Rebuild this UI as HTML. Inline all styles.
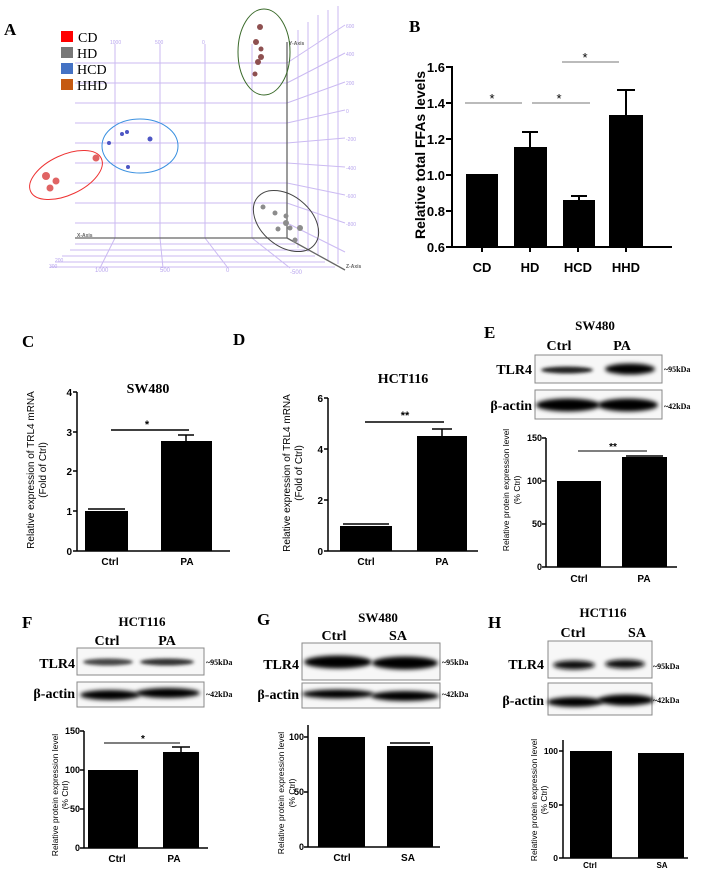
<!DOCTYPE html>
<html><head><meta charset="utf-8"><style>
html,body{margin:0;padding:0;background:#fff;}
svg{display:block;}
.lbl{font-family:"Liberation Serif",serif;font-weight:bold;}
.ax{font-family:"Liberation Sans",sans-serif;font-weight:bold;}
.tr{font-family:"Liberation Serif",serif;font-weight:bold;}
</style></head><body>
<svg width="720" height="870" viewBox="0 0 720 870" xmlns="http://www.w3.org/2000/svg">
<defs>
<filter id="bl" x="-20%" y="-100%" width="140%" height="300%"><feGaussianBlur stdDeviation="2.2"/></filter>
<filter id="bl2" x="-20%" y="-100%" width="140%" height="300%"><feGaussianBlur stdDeviation="1.5"/></filter>
</defs>

<!-- Panel A -->
<text class="lbl" x="4" y="35" font-size="17">A</text>
<g stroke="#cbbaf2" stroke-width="1" fill="none">
<line x1="115" y1="44" x2="115" y2="238"/><line x1="160" y1="44" x2="160" y2="238"/>
<line x1="205" y1="44" x2="205" y2="238"/><line x1="252" y1="44" x2="252" y2="238"/>
<line x1="75" y1="63" x2="287" y2="63"/><line x1="75" y1="83" x2="287" y2="83"/>
<line x1="75" y1="103" x2="287" y2="103"/><line x1="75" y1="123" x2="287" y2="123"/>
<line x1="75" y1="143" x2="287" y2="143"/><line x1="75" y1="163" x2="287" y2="163"/>
<line x1="75" y1="183" x2="287" y2="183"/><line x1="75" y1="203" x2="287" y2="203"/>
<line x1="75" y1="223" x2="287" y2="223"/>
<line x1="287" y1="63" x2="345" y2="25"/><line x1="287" y1="83" x2="345" y2="53"/>
<line x1="287" y1="103" x2="345" y2="82"/><line x1="287" y1="123" x2="345" y2="110"/>
<line x1="287" y1="143" x2="345" y2="138"/><line x1="287" y1="163" x2="345" y2="167"/>
<line x1="287" y1="183" x2="345" y2="195"/><line x1="287" y1="203" x2="345" y2="223"/>
<line x1="287" y1="223" x2="345" y2="252"/>
<line x1="298" y1="30" x2="298" y2="248"/><line x1="308" y1="22" x2="308" y2="252"/>
<line x1="318" y1="15" x2="318" y2="256"/><line x1="328" y1="10" x2="328" y2="260"/>
<line x1="338" y1="6" x2="338" y2="264"/>
<line x1="75" y1="244" x2="295" y2="244"/><line x1="70" y1="250" x2="305" y2="250"/>
<line x1="62" y1="256" x2="315" y2="256"/><line x1="55" y1="262" x2="325" y2="262"/>
<line x1="50" y1="267" x2="335" y2="267"/>
<line x1="115" y1="238" x2="100" y2="268"/><line x1="160" y1="238" x2="163" y2="268"/>
<line x1="205" y1="238" x2="228" y2="268"/><line x1="252" y1="238" x2="290" y2="268"/>
</g>
<g font-family="Liberation Sans,sans-serif" font-size="5" fill="#b8a5ee">
<text x="110" y="44">1000</text><text x="155" y="44">500</text><text x="202" y="44">0</text>
<text x="346" y="28">600</text><text x="346" y="56">400</text><text x="346" y="85">200</text>
<text x="346" y="113">0</text><text x="346" y="141">-200</text><text x="346" y="170">-400</text>
<text x="346" y="198">-600</text><text x="346" y="226">-800</text>
<text x="95" y="272" font-size="6">1000</text><text x="160" y="272" font-size="6">500</text><text x="226" y="272" font-size="6">0</text><text x="290" y="274" font-size="6">-500</text>
<text x="49" y="268">300</text><text x="55" y="262">200</text>
</g>
<g stroke="#666" stroke-width="1.3" fill="none">
<line x1="287" y1="42" x2="287" y2="238"/><line x1="75" y1="238" x2="287" y2="238"/>
<line x1="287" y1="238" x2="345" y2="270"/>
</g>
<g font-family="Liberation Sans,sans-serif" font-size="5" font-weight="bold" fill="#666">
<text x="289" y="45">Y-Axis</text><text x="77" y="237">X-Axis</text><text x="346" y="268">Z-Axis</text>
</g>
<g fill="#e06464"><circle cx="96" cy="158" r="3.5"/><circle cx="46" cy="176" r="4"/><circle cx="56" cy="181" r="3.5"/><circle cx="50" cy="188" r="3.5"/></g>
<g fill="#4d56c4"><circle cx="122" cy="134" r="2"/><circle cx="127" cy="132" r="2"/><circle cx="109" cy="143" r="2"/><circle cx="150" cy="139" r="2.5"/><circle cx="128" cy="167" r="2"/></g>
<g fill="#8e5050"><circle cx="260" cy="27" r="3"/><circle cx="256" cy="42" r="3"/><circle cx="261" cy="49" r="2.5"/><circle cx="261" cy="57" r="3"/><circle cx="258" cy="62" r="3"/><circle cx="255" cy="74" r="2.5"/></g>
<g fill="#8c8c8c"><circle cx="263" cy="207" r="2.5"/><circle cx="275" cy="213" r="2.5"/><circle cx="286" cy="216" r="2.5"/><circle cx="286" cy="223" r="3"/><circle cx="290" cy="228" r="2.5"/><circle cx="278" cy="229" r="2.5"/><circle cx="300" cy="228" r="3"/><circle cx="295" cy="240" r="2.5"/></g>
<ellipse cx="66" cy="175" rx="39" ry="20" transform="rotate(-25 66 175)" fill="none" stroke="#ee3333" stroke-width="1"/>
<ellipse cx="140" cy="146" rx="38" ry="27" fill="none" stroke="#3a90e0" stroke-width="1"/>
<ellipse cx="264" cy="52" rx="26" ry="43" fill="none" stroke="#3a6a2a" stroke-width="1"/>
<ellipse cx="286" cy="221" rx="37" ry="25" transform="rotate(40 286 221)" fill="none" stroke="#444" stroke-width="1"/>
<rect x="61" y="31" width="12" height="11" fill="#ff0000"/>
<rect x="61" y="47" width="12" height="11" fill="#777"/>
<rect x="61" y="63" width="12" height="11" fill="#4472c4"/>
<rect x="61" y="79" width="12" height="11" fill="#c55a11"/>
<g font-family="Liberation Serif,serif" font-size="14">
<text x="78" y="42">CD</text><text x="77" y="58">HD</text><text x="77" y="74">HCD</text><text x="77" y="90">HHD</text>
</g>

<!-- Panel B -->
<text class="lbl" x="409" y="32" font-size="17">B</text>
<g fill="#000">
<rect x="466" y="174" width="32" height="73"/><rect x="514" y="147" width="33" height="100"/>
<rect x="563" y="200" width="32" height="47"/><rect x="609" y="115" width="34" height="132"/>
</g>
<g stroke="#000" stroke-width="2" fill="none">
<line x1="452" y1="66" x2="452" y2="247"/><line x1="452" y1="247" x2="672" y2="247"/>
<line x1="446" y1="67" x2="452" y2="67"/><line x1="446" y1="103" x2="452" y2="103"/><line x1="446" y1="139" x2="452" y2="139"/><line x1="446" y1="175" x2="452" y2="175"/><line x1="446" y1="211" x2="452" y2="211"/><line x1="446" y1="247" x2="452" y2="247"/>
<line x1="482" y1="247" x2="482" y2="252"/><line x1="530" y1="247" x2="530" y2="252"/><line x1="578" y1="247" x2="578" y2="252"/><line x1="626" y1="247" x2="626" y2="252"/>
<line x1="530" y1="147" x2="530" y2="132"/><line x1="522" y1="132" x2="538" y2="132"/>
<line x1="579" y1="200" x2="579" y2="196"/><line x1="571" y1="196" x2="587" y2="196"/>
<line x1="626" y1="115" x2="626" y2="90"/><line x1="617" y1="90" x2="635" y2="90"/>
</g>
<g stroke="#777" stroke-width="1"><line x1="465" y1="103" x2="522" y2="103"/><line x1="532" y1="103" x2="590" y2="103"/><line x1="562" y1="62" x2="619" y2="62"/></g>
<g font-family="Liberation Sans,sans-serif" font-size="13" text-anchor="middle"><text x="492" y="103">*</text><text x="559" y="103">*</text><text x="585" y="62">*</text></g>
<g class="ax" font-size="13" text-anchor="end">
<text x="445" y="72">1.6</text><text x="445" y="108">1.4</text><text x="445" y="144">1.2</text><text x="445" y="180">1.0</text><text x="445" y="216">0.8</text><text x="445" y="252">0.6</text>
</g>
<g class="ax" font-size="13" text-anchor="middle"><text x="482" y="272">CD</text><text x="530" y="272">HD</text><text x="578" y="272">HCD</text><text x="626" y="272">HHD</text></g>
<text class="ax" font-size="14" text-anchor="middle" transform="translate(425 155) rotate(-90)">Relative total  FFAs levels</text>

<!-- Panel C -->
<text class="lbl" x="22" y="347" font-size="17">C</text>
<text class="tr" x="148" y="393" font-size="14" text-anchor="middle">SW480</text>
<rect x="85" y="511" width="43" height="40" fill="#000"/>
<rect x="161" y="441" width="51" height="110" fill="#000"/>
<g stroke="#000" stroke-width="1.5" fill="none">
<line x1="77" y1="392" x2="77" y2="551"/><line x1="77" y1="551" x2="230" y2="551"/>
<line x1="73" y1="392" x2="77" y2="392"/><line x1="73" y1="432" x2="77" y2="432"/><line x1="73" y1="471" x2="77" y2="471"/><line x1="73" y1="511" x2="77" y2="511"/><line x1="73" y1="551" x2="77" y2="551"/>
<line x1="186" y1="441" x2="186" y2="435"/><line x1="178" y1="435" x2="194" y2="435"/>
<line x1="88" y1="509" x2="125" y2="509"/>
<line x1="111" y1="430" x2="189" y2="430"/>
</g>
<text class="ax" x="147" y="428" font-size="11" text-anchor="middle">*</text>
<g class="ax" font-size="10" text-anchor="end"><text x="72" y="396">4</text><text x="72" y="436">3</text><text x="72" y="475">2</text><text x="72" y="515">1</text><text x="72" y="555">0</text></g>
<g class="ax" font-size="10" text-anchor="middle"><text x="110" y="565">Ctrl</text><text x="187" y="565">PA</text></g>
<g font-family="Liberation Sans,sans-serif" font-size="10" text-anchor="middle">
<text transform="translate(34 470) rotate(-90)">Relative expression of TRL4 mRNA</text>
<text transform="translate(46 470) rotate(-90)">(Fold of Ctrl)</text></g>

<!-- Panel D -->
<text class="lbl" x="233" y="345" font-size="17">D</text>
<text class="tr" x="403" y="383" font-size="14" text-anchor="middle">HCT116</text>
<rect x="340" y="526" width="52" height="25" fill="#000"/>
<rect x="417" y="436" width="50" height="115" fill="#000"/>
<g stroke="#000" stroke-width="1.5" fill="none">
<line x1="328" y1="398" x2="328" y2="551"/><line x1="328" y1="551" x2="478" y2="551"/>
<line x1="324" y1="398" x2="328" y2="398"/><line x1="324" y1="449" x2="328" y2="449"/><line x1="324" y1="500" x2="328" y2="500"/><line x1="324" y1="551" x2="328" y2="551"/>
<line x1="442" y1="436" x2="442" y2="429"/><line x1="432" y1="429" x2="452" y2="429"/>
<line x1="343" y1="524" x2="389" y2="524"/>
<line x1="365" y1="422" x2="444" y2="422"/>
</g>
<text class="ax" x="405" y="419" font-size="11" text-anchor="middle">**</text>
<g class="ax" font-size="10" text-anchor="end"><text x="323" y="402">6</text><text x="323" y="453">4</text><text x="323" y="504">2</text><text x="323" y="555">0</text></g>
<g class="ax" font-size="10" text-anchor="middle"><text x="366" y="565">Ctrl</text><text x="442" y="565">PA</text></g>
<g font-family="Liberation Sans,sans-serif" font-size="10" text-anchor="middle">
<text transform="translate(290 473) rotate(-90)">Relative expression of TRL4 mRNA</text>
<text transform="translate(302 473) rotate(-90)">(Fold of Ctrl)</text></g>

<!-- Panel E -->
<text class="lbl" x="484" y="338" font-size="17">E</text>
<text class="tr" x="595" y="330" font-size="13" text-anchor="middle">SW480</text>
<g class="tr" font-size="14" text-anchor="middle"><text x="559" y="350">Ctrl</text><text x="622" y="350">PA</text></g>
<rect x="535" y="355" width="127" height="28" fill="#f7f7f7" stroke="#888"/>
<ellipse cx="567" cy="370" rx="26" ry="3.5" fill="#222" filter="url(#bl2)"/>
<ellipse cx="630" cy="369" rx="25" ry="5.5" fill="#000" filter="url(#bl)"/>
<rect x="535" y="390" width="127" height="29" fill="#f7f7f7" stroke="#888"/>
<ellipse cx="568" cy="405" rx="32" ry="6.5" fill="#000" filter="url(#bl)"/>
<ellipse cx="628" cy="405" rx="30" ry="6.5" fill="#000" filter="url(#bl)"/>
<g class="tr" font-size="14" text-anchor="end"><text x="532" y="374">TLR4</text><text x="532" y="410">β-actin</text></g>
<g class="tr" font-size="8"><text x="664" y="372">~95kDa</text><text x="664" y="409">~42kDa</text></g>
<rect x="557" y="481" width="44" height="86" fill="#000"/>
<rect x="622" y="457" width="45" height="110" fill="#000"/>
<g stroke="#000" stroke-width="1.5" fill="none">
<line x1="546" y1="438" x2="546" y2="567"/><line x1="546" y1="567" x2="677" y2="567"/>
<line x1="542" y1="438" x2="546" y2="438"/><line x1="542" y1="481" x2="546" y2="481"/><line x1="542" y1="524" x2="546" y2="524"/><line x1="542" y1="567" x2="546" y2="567"/>
<line x1="626" y1="456" x2="663" y2="456"/>
</g>
<line x1="578" y1="451" x2="647" y2="451" stroke="#555" stroke-width="1.5"/>
<text class="ax" x="613" y="450" font-size="10" text-anchor="middle">**</text>
<g class="ax" font-size="9" text-anchor="end"><text x="542" y="441">150</text><text x="542" y="484">100</text><text x="542" y="527">50</text><text x="542" y="570">0</text></g>
<g class="ax" font-size="10" text-anchor="middle"><text x="579" y="582">Ctrl</text><text x="644" y="582">PA</text></g>
<g font-family="Liberation Sans,sans-serif" font-size="8.5" text-anchor="middle">
<text transform="translate(509 490) rotate(-90)">Relative protein expression level</text>
<text transform="translate(520 490) rotate(-90)">(% Ctrl)</text></g>

<!-- Panel F -->
<text class="lbl" x="22" y="628" font-size="17">F</text>
<text class="tr" x="142" y="626" font-size="13" text-anchor="middle">HCT116</text>
<g class="tr" font-size="14" text-anchor="middle"><text x="107" y="645">Ctrl</text><text x="167" y="645">PA</text></g>
<rect x="77" y="648" width="127" height="27" fill="#f7f7f7" stroke="#888"/>
<ellipse cx="108" cy="662" rx="25" ry="3.5" fill="#444" filter="url(#bl2)"/>
<ellipse cx="167" cy="662" rx="27" ry="3.5" fill="#333" filter="url(#bl2)"/>
<rect x="77" y="682" width="127" height="25" fill="#f7f7f7" stroke="#888"/>
<ellipse cx="110" cy="695" rx="30" ry="5" fill="#000" filter="url(#bl)"/>
<ellipse cx="168" cy="693" rx="32" ry="5" fill="#000" filter="url(#bl)"/>
<g class="tr" font-size="14" text-anchor="end"><text x="75" y="668">TLR4</text><text x="75" y="698">β-actin</text></g>
<g class="tr" font-size="8"><text x="206" y="665">~95kDa</text><text x="206" y="697">~42kDa</text></g>
<rect x="88" y="770" width="50" height="78" fill="#000"/>
<rect x="163" y="752" width="36" height="96" fill="#000"/>
<g stroke="#000" stroke-width="1.5" fill="none">
<line x1="84" y1="731" x2="84" y2="848"/><line x1="84" y1="848" x2="208" y2="848"/>
<line x1="80" y1="731" x2="84" y2="731"/><line x1="80" y1="770" x2="84" y2="770"/><line x1="80" y1="809" x2="84" y2="809"/><line x1="80" y1="848" x2="84" y2="848"/>
<line x1="181" y1="752" x2="181" y2="747"/><line x1="172" y1="747" x2="190" y2="747"/>
</g>
<line x1="104" y1="743" x2="180" y2="743" stroke="#555" stroke-width="1.5"/>
<text class="ax" x="143" y="742" font-size="10" text-anchor="middle">*</text>
<g class="ax" font-size="9" text-anchor="end"><text x="80" y="734">150</text><text x="80" y="773">100</text><text x="80" y="812">50</text><text x="80" y="851">0</text></g>
<g class="ax" font-size="10" text-anchor="middle"><text x="117" y="862">Ctrl</text><text x="174" y="862">PA</text></g>
<g font-family="Liberation Sans,sans-serif" font-size="8.5" text-anchor="middle">
<text transform="translate(58 795) rotate(-90)">Relative protein expression level</text>
<text transform="translate(68 795) rotate(-90)">(% Ctrl)</text></g>

<!-- Panel G -->
<text class="lbl" x="257" y="625" font-size="17">G</text>
<text class="tr" x="378" y="622" font-size="13" text-anchor="middle">SW480</text>
<g class="tr" font-size="14" text-anchor="middle"><text x="334" y="640">Ctrl</text><text x="398" y="640">SA</text></g>
<rect x="302" y="643" width="138" height="37" fill="#f7f7f7" stroke="#888"/>
<ellipse cx="338" cy="662" rx="34" ry="6.5" fill="#000" filter="url(#bl)"/>
<ellipse cx="405" cy="663" rx="33" ry="6.5" fill="#000" filter="url(#bl)"/>
<rect x="302" y="683" width="138" height="25" fill="#f7f7f7" stroke="#888"/>
<ellipse cx="338" cy="694" rx="36" ry="4.5" fill="#000" filter="url(#bl)"/>
<ellipse cx="405" cy="696" rx="34" ry="5" fill="#000" filter="url(#bl)"/>
<g class="tr" font-size="14" text-anchor="end"><text x="299" y="669">TLR4</text><text x="299" y="699">β-actin</text></g>
<g class="tr" font-size="8"><text x="442" y="665">~95kDa</text><text x="442" y="697">~42kDa</text></g>
<rect x="318" y="737" width="47" height="110" fill="#000"/>
<rect x="387" y="746" width="46" height="101" fill="#000"/>
<g stroke="#000" stroke-width="1.5" fill="none">
<line x1="308" y1="725" x2="308" y2="847"/><line x1="308" y1="847" x2="440" y2="847"/>
<line x1="304" y1="737" x2="308" y2="737"/><line x1="304" y1="792" x2="308" y2="792"/><line x1="304" y1="847" x2="308" y2="847"/>
<line x1="390" y1="743" x2="430" y2="743"/>
</g>
<g class="ax" font-size="9" text-anchor="end"><text x="304" y="740">100</text><text x="304" y="795">50</text><text x="304" y="850">0</text></g>
<g class="ax" font-size="10" text-anchor="middle"><text x="342" y="861">Ctrl</text><text x="408" y="861">SA</text></g>
<g font-family="Liberation Sans,sans-serif" font-size="8.5" text-anchor="middle">
<text transform="translate(284 793) rotate(-90)">Relative protein expression level</text>
<text transform="translate(295 793) rotate(-90)">(% Ctrl)</text></g>

<!-- Panel H -->
<text class="lbl" x="488" y="628" font-size="17">H</text>
<text class="tr" x="603" y="617" font-size="13" text-anchor="middle">HCT116</text>
<g class="tr" font-size="14" text-anchor="middle"><text x="573" y="637">Ctrl</text><text x="637" y="637">SA</text></g>
<rect x="548" y="641" width="104" height="37" fill="#f7f7f7" stroke="#888"/>
<ellipse cx="574" cy="665" rx="21" ry="4.5" fill="#111" filter="url(#bl)"/>
<ellipse cx="625" cy="664" rx="20" ry="4.5" fill="#111" filter="url(#bl)"/>
<rect x="548" y="683" width="104" height="32" fill="#f7f7f7" stroke="#888"/>
<ellipse cx="575" cy="702" rx="28" ry="5" fill="#000" filter="url(#bl)"/>
<ellipse cx="626" cy="700" rx="28" ry="5.5" fill="#000" filter="url(#bl)"/>
<g class="tr" font-size="14" text-anchor="end"><text x="544" y="669">TLR4</text><text x="544" y="705">β-actin</text></g>
<g class="tr" font-size="8"><text x="653" y="669">~95kDa</text><text x="653" y="703">~42kDa</text></g>
<rect x="570" y="751" width="42" height="107" fill="#000"/>
<rect x="638" y="753" width="46" height="105" fill="#000"/>
<g stroke="#000" stroke-width="1.5" fill="none">
<line x1="563" y1="740" x2="563" y2="858"/><line x1="563" y1="858" x2="688" y2="858"/>
<line x1="559" y1="751" x2="563" y2="751"/><line x1="559" y1="805" x2="563" y2="805"/><line x1="559" y1="858" x2="563" y2="858"/>
</g>
<g class="ax" font-size="8.5" text-anchor="end"><text x="558" y="754">100</text><text x="558" y="808">50</text><text x="558" y="861">0</text></g>
<g class="ax" font-size="8" text-anchor="middle"><text x="590" y="868">Ctrl</text><text x="662" y="868">SA</text></g>
<g font-family="Liberation Sans,sans-serif" font-size="8.5" text-anchor="middle">
<text transform="translate(537 800) rotate(-90)">Relative protein expression level</text>
<text transform="translate(547 800) rotate(-90)">(% Ctrl)</text></g>
</svg>
</body></html>
